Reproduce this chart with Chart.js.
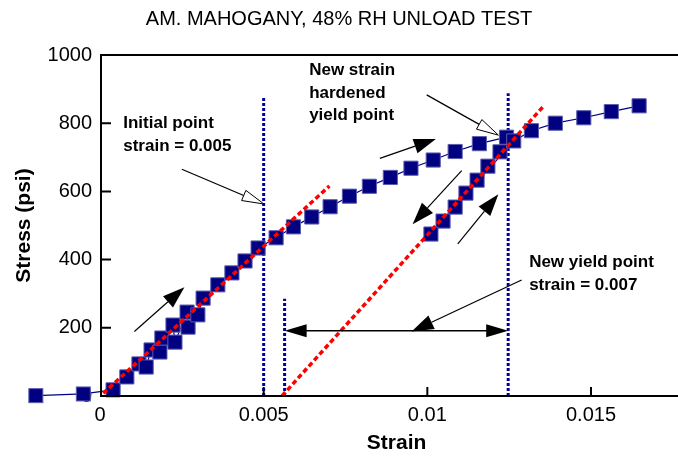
<!DOCTYPE html>
<html><head><meta charset="utf-8">
<script src="https://cdn.jsdelivr.net/npm/chart.js@4/dist/chart.umd.min.js"></script>
<style>
html,body{margin:0;padding:0;overflow:hidden;background:#fff;width:678px;height:457px}
#wrap{position:absolute;left:0;top:0;width:720px;height:457px}
</style>
</head><body><div id="wrap"><canvas id="c" width="720" height="457"></canvas></div>
<script>
// ---- data ----
const chartTitle = "AM. MAHOGANY, 48% RH UNLOAD TEST";
const xAxisTitle = "Strain";
const yAxisTitle = "Stress (psi)";
const xTickValues = [0, 0.005, 0.01, 0.015];
const xTickLabels = ["0", "0.005", "0.01", "0.015"];
const yTickValues = [0, 200, 400, 600, 800, 1000];
const yTickLabels = ["0", "200", "400", "600", "800", "1000"];

const testStrain = [-0.00196, -0.00051,
  0.0004, 0.00082, 0.00119, 0.00141, 0.00156, 0.00183, 0.00189, 0.00223, 0.00229, 0.00266, 0.00269, 0.00299, 0.00315,
  0.0036, 0.00403, 0.00443, 0.00483,
  0.00538, 0.00591, 0.00647, 0.00703, 0.00762, 0.00823, 0.00887, 0.0095, 0.01018, 0.01085, 0.01159, 0.01242,
  0.01222, 0.01185, 0.01152, 0.01118, 0.01085, 0.01048, 0.01011,
  0.01264, 0.01318, 0.01391, 0.01478, 0.01562, 0.01647];
const testStress = [1, 6,
  18, 56, 94, 85, 135, 129, 170, 208, 158, 246, 202, 238, 287,
  326, 361, 396, 434,
  464, 496, 525, 555, 586, 615, 641, 668, 692, 717, 740, 759,
  716, 674, 633, 595, 554, 513, 475,
  748, 778, 800, 816, 834, 851];

const fit1Strain = [0.0001, 0.00701];
const fit1Stress = [8, 616];
const fit2Strain = [0.00556, 0.01358];
const fit2Stress = [0, 853];

const markAStrain = [0.005, 0.005];      const markAStress = [0, 880];
const markBStrain = [0.01247, 0.01247];  const markBStress = [0, 888];
const markCStrain = [0.00564, 0.00564];  const markCStress = [0, 285];

// ---- annotations (data coordinates) ----
const arrowsFilled = [
  [0.00105, 189, 0.00258, 319],
  [0.00855, 697, 0.01026, 754],
  [0.01105, 661, 0.00955, 504],
  [0.01093, 446, 0.01217, 592],
  [0.01288, 340, 0.00952, 189]
];
const arrowsHollow = [
  [0.0025, 665, 0.00501, 563],
  [0.00998, 883, 0.01217, 765]
];
const doubleArrow = [0.00564, 191, 0.01247, 191];
const notes = [
  ["Initial point", 0.00071, 800],
  ["strain = 0.005", 0.00071, 733],
  ["New strain", 0.00639, 956],
  ["hardened", 0.00639, 889],
  ["yield point", 0.00639, 824],
  ["New yield point", 0.01311, 391],
  ["strain = 0.007", 0.01311, 325]
];

const pts = (xs, ys) => xs.map((x, i) => ({x: x, y: ys[i]}));

function head(ctx, x1, y1, x2, y2, len, hw, hollow) {
  const a = Math.atan2(y2 - y1, x2 - x1);
  const bx = x2 - len * Math.cos(a), by = y2 - len * Math.sin(a);
  const px = -Math.sin(a) * hw, py = Math.cos(a) * hw;
  ctx.beginPath();
  ctx.moveTo(x2, y2);
  ctx.lineTo(bx + px, by + py);
  ctx.lineTo(bx - px, by - py);
  ctx.closePath();
  if (hollow) { ctx.fillStyle = '#fff'; ctx.fill(); ctx.lineWidth = 1; ctx.strokeStyle = '#000'; ctx.stroke(); }
  else { ctx.fillStyle = '#000'; ctx.fill(); }
  return [bx, by];
}

const overlay = {
  id: 'overlay',
  afterDraw(chart) {
    const ctx = chart.ctx, xs = chart.scales.x, ys = chart.scales.y, ca = chart.chartArea;
    const X = v => xs.getPixelForValue(v), Y = v => ys.getPixelForValue(v);
    ctx.save();
    // frame
    ctx.strokeStyle = '#000'; ctx.lineWidth = 2;
    ctx.strokeRect(ca.left + 1, ca.top, ca.right - ca.left, ca.bottom - ca.top);
    // inward ticks
    ctx.beginPath();
    yTickValues.slice(1, -1).forEach(v => { ctx.moveTo(ca.left, Y(v)); ctx.lineTo(ca.left + 11, Y(v)); });
    xTickValues.slice(1).forEach(v => { ctx.moveTo(X(v), ca.bottom); ctx.lineTo(X(v), ca.bottom - 9); });
    ctx.stroke();
    // data points lying left of the plot frame (library skips them)
    const meta = chart.getDatasetMeta(0);
    meta.data.forEach(el => {
      if (el.x < ca.left - 2) {
        ctx.fillStyle = '#000080'; ctx.strokeStyle = '#5c5cb0'; ctx.lineWidth = 1;
        ctx.fillRect(el.x - 7, el.y - 7, 14, 14);
        ctx.strokeRect(el.x - 7, el.y - 7, 14, 14);
      }
    });
    // arrows
    arrowsFilled.forEach(a => {
      const x1 = X(a[0]), y1 = Y(a[1]), x2 = X(a[2]), y2 = Y(a[3]);
      const b = head(ctx, x1, y1, x2, y2, 22, 7.5, false);
      ctx.beginPath(); ctx.moveTo(x1, y1); ctx.lineTo(b[0], b[1]); ctx.strokeStyle = '#000'; ctx.lineWidth = 1.2; ctx.stroke();
    });
    arrowsHollow.forEach(a => {
      const x1 = X(a[0]), y1 = Y(a[1]), x2 = X(a[2]), y2 = Y(a[3]);
      ctx.beginPath(); ctx.moveTo(x1, y1);
      const ang = Math.atan2(y2 - y1, x2 - x1);
      ctx.lineTo(x2 - 22 * Math.cos(ang), y2 - 22 * Math.sin(ang));
      ctx.strokeStyle = '#000'; ctx.lineWidth = 1.2; ctx.stroke();
      head(ctx, x1, y1, x2, y2, 22, 5.5, true);
    });
    {
      const x1 = X(doubleArrow[0]), y1 = Y(doubleArrow[1]), x2 = X(doubleArrow[2]), y2 = Y(doubleArrow[3]);
      ctx.beginPath(); ctx.moveTo(x1 + 10, y1); ctx.lineTo(x2 - 10, y2); ctx.strokeStyle = '#000'; ctx.lineWidth = 1.5; ctx.stroke();
      head(ctx, x1, y1, x2, y2, 22, 6.5, false);
      head(ctx, x2, y2, x1, y1, 22, 6.5, false);
    }
    // texts
    ctx.fillStyle = '#000';
    ctx.textBaseline = 'middle';
    ctx.textAlign = 'left';
    ctx.font = 'bold 17px "Liberation Sans", Arial, sans-serif';
    notes.forEach(n => ctx.fillText(n[0], X(n[1]), Y(n[2])));
    ctx.textAlign = 'center';
    ctx.font = '20px "Liberation Sans", Arial, sans-serif';
    ctx.fillText(chartTitle, 339, 19);
    ctx.font = 'bold 21px "Liberation Sans", Arial, sans-serif';
    ctx.fillText(xAxisTitle, (ca.left + ca.right) / 2 + 2, 443);
    ctx.translate(24, (ca.top + ca.bottom) / 2);
    ctx.rotate(-Math.PI / 2);
    ctx.fillText(yAxisTitle, 0, 0);
    ctx.restore();
  }
};

const tickFont = {family: '"Liberation Sans", Arial, sans-serif', size: 20};

new Chart(document.getElementById('c'), {
  type: 'scatter',
  data: {
    datasets: [
      {data: pts(testStrain, testStress), showLine: true, borderColor: '#000080', borderWidth: 1.2,
       pointStyle: 'rect', pointRadius: 10, pointBackgroundColor: '#000080', pointBorderColor: '#5c5cb0',
       pointBorderWidth: 1, clip: false, order: 2},
      {data: pts(fit1Strain, fit1Stress), showLine: true, borderColor: '#ff0000', borderWidth: 3.5,
       borderDash: [5, 3], pointRadius: 0, order: 1},
      {data: pts(fit2Strain, fit2Stress), showLine: true, borderColor: '#ff0000', borderWidth: 3.5,
       borderDash: [5, 3], pointRadius: 0, order: 1},
      {data: pts(markAStrain, markAStress), showLine: true, borderColor: '#000099', borderWidth: 3,
       borderDash: [3, 2], pointRadius: 0, order: 3},
      {data: pts(markBStrain, markBStress), showLine: true, borderColor: '#000099', borderWidth: 3,
       borderDash: [3, 2], pointRadius: 0, order: 3},
      {data: pts(markCStrain, markCStress), showLine: true, borderColor: '#000099', borderWidth: 3,
       borderDash: [3, 2], pointRadius: 0, order: 3}
    ]
  },
  options: {
    responsive: false, animation: false, devicePixelRatio: 1,
    layout: {padding: {top: 55, right: 30.8, left: 0, bottom: 0}},
    plugins: {legend: {display: false}, tooltip: {enabled: false}, title: {display: false}},
    scales: {
      x: {type: 'linear', min: 0, max: 0.018,
        afterBuildTicks: s => { s.ticks = xTickValues.map(v => ({value: v})); },
        afterFit: s => { s.height = 61; },
        grid: {display: false, drawTicks: false}, border: {display: false},
        ticks: {font: tickFont, color: '#000', padding: 7, maxRotation: 0,
          callback: (v) => { const i = xTickValues.indexOf(v); return i >= 0 ? xTickLabels[i] : ''; }}},
      y: {type: 'linear', min: 0, max: 1000,
        afterBuildTicks: s => { s.ticks = yTickValues.map(v => ({value: v})); },
        afterFit: s => { s.width = 100; },
        grid: {display: false, drawTicks: false}, border: {display: false},
        ticks: {font: tickFont, color: '#000', padding: 8,
          callback: (v) => { const i = yTickValues.indexOf(v); return i >= 0 ? yTickLabels[i] : ''; }}}
    }
  },
  plugins: [overlay]
});
</script>
</body></html>
